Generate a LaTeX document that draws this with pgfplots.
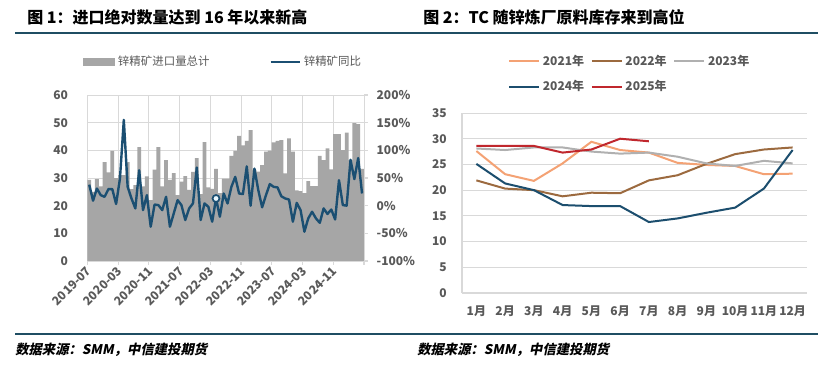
\documentclass[border=0pt]{standalone}
\usepackage{fontspec}
\setmainfont{Noto Sans CJK SC}
\newfontfamily\srcfont{Noto Sans CJK SC}[FakeSlant=0.2]
\usepackage{pgfplots}
\usepackage{pgfplotstable}
\pgfplotsset{compat=1.18}
\definecolor{rulec}{HTML}{1F4E63}
\definecolor{barg}{HTML}{A6A6A6}
\definecolor{lineb}{HTML}{1B4F72}
\definecolor{tickc}{HTML}{595959}
\definecolor{gridc}{HTML}{D9D9D9}
\definecolor{cA}{HTML}{F4A274}
\definecolor{cB}{HTML}{9C6A3F}
\definecolor{cC}{HTML}{B0B0B0}
\definecolor{cD}{HTML}{1C4E6E}
\definecolor{cE}{HTML}{C0272D}

\pgfplotstableread{
i v p
0 29.3 38
1 25 9
2 29.6 31
3 27 19
4 35.7 16
5 32 30
6 39.8 30
7 30 3
8 31 49
9 31 155
10 35.7 34
11 26 13
12 27.4 -5
13 41.2 64
14 27 -8
15 30.6 19
16 22 -38
17 33 2
18 41.2 1
19 27 -8
20 36.5 16
21 29.3 -38
22 31.8 -14
23 23.8 10
24 28.7 1
25 30.7 -26
26 25.7 -5
27 32.2 4
28 37.2 69
29 24.2 -26
30 43 4
31 26.6 -2
32 26.1 -29
33 33.3 13
34 24.5 -20
35 29.8 22
36 29.8 4
37 38 34
38 39.8 52
39 45.2 22
40 41.8 21
41 43.4 71
42 47.3 0
43 32.9 67
44 32.3 28
45 34.7 -3
46 39.5 19
47 39.9 39
48 42.9 34
49 43.4 33
50 43.7 17
51 31.7 13
52 44.3 11
53 39.5 -29
54 25.5 5
55 25.3 -8
56 24.5 -47
57 28.9 -23
58 27.1 -11
59 27.1 -23
60 38 -31
61 36.5 -5
62 40.7 -15
63 33.1 -7
64 45.9 -25
65 45.9 46
66 40.1 1
67 46.4 0
68 36.5 83
69 49.8 48
70 49.5 86
71 33.3 22
}\imp

\pgfplotstableread{
m y21 y22 y23 y24
1 27.6 21.9 28.1 25.1
2 23.1 20.3 27.8 21.3
3 21.8 20.0 28.3 20.0
4 25.2 18.8 28.3 17.1
5 29.4 19.5 27.5 16.9
6 27.8 19.4 27.1 16.9
7 27.3 21.9 27.3 13.8
8 25.3 22.9 26.5 14.5
9 24.9 25.1 25.2 15.6
10 24.7 27.0 24.7 16.6
11 23.1 27.9 25.7 20.3
12 23.2 28.3 25.2 27.8
}\tcinv

\pgfplotstableread{
m y25
1 28.6
2 28.6
3 28.6
4 27.3
5 27.9
6 30.0
7 29.5
}\tcinvb

\begin{document}
\begin{tikzpicture}[x=0.75pt,y=0.75pt]
\path[use as bounding box, fill=white] (0,0) rectangle (829,368);
\node[anchor=west, inner sep=0pt, font=\bfseries\fontsize{12}{14}\selectfont] at (27,351) {图 1：进口绝对数量达到 16 年以来新高};
\node[anchor=west, inner sep=0pt, font=\bfseries\fontsize{12}{14}\selectfont] at (423,351) {图 2：TC 随锌炼厂原料库存来到高位};
\draw[rulec, line width=2pt] (15,335) -- (818,335);
\draw[rulec, line width=2pt] (15,34) -- (818,34);
\node[anchor=west, inner sep=0pt, font=\srcfont\bfseries\fontsize{10}{12}\selectfont] at (15,18) {数据来源：SMM，中信建投期货};
\node[anchor=west, inner sep=0pt, font=\srcfont\bfseries\fontsize{10}{12}\selectfont] at (417,18) {数据来源：SMM，中信建投期货};

% ---------- left chart ----------
\begin{axis}[at={(65.475pt,80.25pt)}, anchor=south west, width=207.5pt, height=124.5pt, scale only axis,
  xmin=-0.5, xmax=71.5, ymin=0, ymax=60, ytick={0,10,...,60},
  xtick={-0.5,7.5,...,71.5},
  xticklabels={2019-07,2020-03,2020-11,2021-07,2022-03,2022-11,2023-07,2024-03,2024-11,},
  xmajorgrids, ymajorgrids, grid style={gridc, line width=0.6pt},
  axis x line*=bottom, axis y line*=left,
  y axis line style={draw=none}, x axis line style={gridc, line width=0.8pt},
  tick label style={font=\bfseries\fontsize{9}{10}\selectfont, text=tickc},
  /pgf/number format/assume math mode=true,
  xticklabel style={rotate=45, anchor=east, inner sep=1pt, yshift=-3pt},
  yticklabel style={xshift=-8pt},
  ytick style={draw=none}, xtick style={gridc, line width=0.8pt}, tick align=outside, major tick length=3pt,
  legend columns=2,
  legend style={at={(-0.0155,1.199)}, anchor=west, draw=none, fill=none, inner sep=0pt,
    font=\fontsize{8.6}{10}\selectfont, text=tickc,
    /tikz/every even column/.append style={column sep=43pt}},
  legend cell align=left,
]
\addplot[fill=barg, draw=none, ybar, bar width=1,
  legend image code/.code={\fill[barg] (0pt,-3pt) rectangle (24pt,3pt);}] table[x=i, y=v] {\imp};
\addlegendentry{锌精矿进口量总计}
\addlegendimage{legend image code/.code={\draw[lineb, line width=1.6pt] (0pt,0pt) -- (22pt,0pt);}}
\addlegendentry{锌精矿同比}
\end{axis}

\begin{axis}[at={(65.475pt,80.25pt)}, anchor=south west, width=207.5pt, height=124.5pt, scale only axis,
  xmin=-0.5, xmax=71.5, ymin=-100, ymax=200, ytick={-100,-50,...,200},
  yticklabels={-100\%,-50\%,0\%,50\%,100\%,150\%,200\%},
  axis x line=none, axis y line*=right, y axis line style={draw=none},
  tick label style={font=\bfseries\fontsize{9}{10}\selectfont, text=tickc},
  ytick style={gridc, line width=0.8pt}, tick align=outside, major tick length=3pt,
  yticklabel style={xshift=3pt},
]
\addplot[lineb, line width=1.8pt, line join=round] table[x=i, y=p] {\imp};
\addplot[only marks, mark=*, mark size=2.6pt, mark options={fill=cyan!8, draw=lineb, line width=1.3pt}]
  coordinates {(33,13)};
\end{axis}

% ---------- right chart ----------
\begin{axis}[at={(346.5pt,56.25pt)}, anchor=south west, width=258.75pt, height=135pt, scale only axis,
  xmin=0.5, xmax=12.5, ymin=0, ymax=35, ytick={0,5,...,35},
  xtick={1,...,12},
  xticklabels={1月,2月,3月,4月,5月,6月,7月,8月,9月,10月,11月,12月},
  extra x ticks={0.5,1.5,...,12.5}, extra x tick labels={},
  extra x tick style={grid=none, major tick length=4pt, tick align=inside, xtick style={gridc, line width=0.8pt}},
  ymajorgrids, grid style={gridc, line width=0.6pt},
  axis x line*=bottom, axis y line*=left,
  axis line style={gridc, line width=0.8pt},
  xtick style={draw=none}, ytick style={draw=none},
  tick label style={font=\bfseries\fontsize{9}{10}\selectfont, text=tickc},
  /pgf/number format/assume math mode=true,
  yticklabel style={xshift=-8pt},
  xticklabel style={yshift=-6pt},
  legend columns=3,
  legend style={at={(0.1333,1.339)}, anchor=north west, draw=none, fill=none, inner sep=0pt,
    font=\bfseries\fontsize{9}{11}\selectfont, text=tickc,
    /tikz/every even column/.append style={column sep=3pt},
    /tikz/every odd column/.append style={column sep=0pt},
    row sep=6pt},
  legend cell align=left,
  legend image code/.code={\draw[#1, line width=1.5pt] (0pt,0pt) -- (22.5pt,0pt);},
]
\addplot[cA, line width=1.5pt] table[x=m, y=y21] {\tcinv};
\addlegendentry{2021年}
\addplot[cB, line width=1.5pt] table[x=m, y=y22] {\tcinv};
\addlegendentry{2022年}
\addplot[cC, line width=1.5pt] table[x=m, y=y23] {\tcinv};
\addlegendentry{2023年}
\addplot[cD, line width=1.5pt] table[x=m, y=y24] {\tcinv};
\addlegendentry{2024年}
\addplot[cE, line width=1.5pt] table[x=m, y=y25] {\tcinvb};
\addlegendentry{2025年}
\end{axis}
\end{tikzpicture}
\end{document}
